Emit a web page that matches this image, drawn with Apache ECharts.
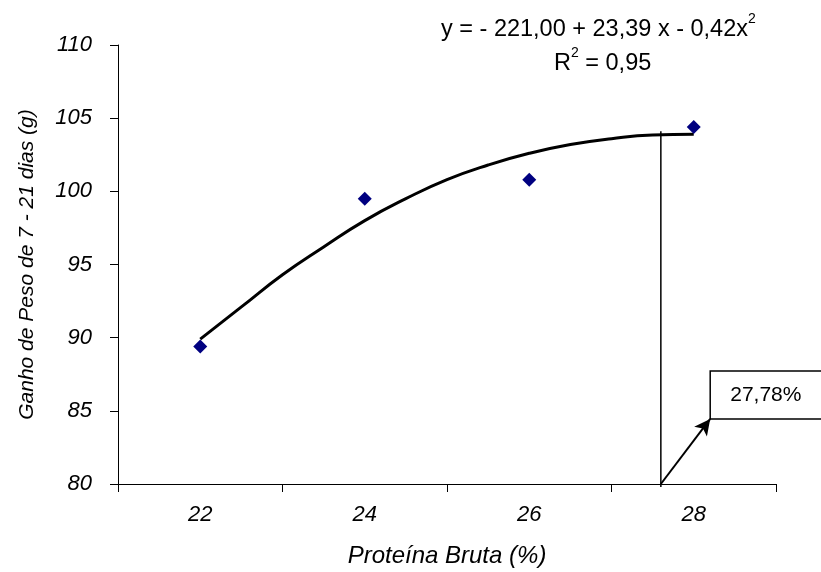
<!DOCTYPE html>
<html>
<head>
<meta charset="utf-8">
<script src="https://cdn.jsdelivr.net/npm/echarts@6/dist/echarts.min.js"></script>
<style>
html,body{margin:0;padding:0;background:#fff;}
#c{width:821px;height:572px;}
</style>
</head>
<body>
<div id="c"></div>
<script>
// ---- data ----
var xCategories = ['22', '24', '26', '28'];
var obsX = [22, 24, 26, 28];
var obsY = [89.4, 99.5, 100.8, 104.4];
var trendX = [22.0, 22.5, 23.0, 23.5, 24.0, 24.5, 25.0, 25.5, 26.0, 26.5, 27.0, 27.5, 28.0];
var trendY = [89.9, 92.1, 94.3, 96.2, 98.0, 99.5, 100.8, 101.8, 102.6, 103.2, 103.6, 103.85, 103.9];
var yTicks = [80, 85, 90, 95, 100, 105, 110];
var optimumLabel = '27,78%';
var optimumLineX = [27.6, 27.6];
var optimumLineY = [104.1, 79.8];
var arrowFrom = [27.6, 80];
var arrowTo = [28.2, 84.45];

var FONT = '"Liberation Sans", Arial, Helvetica, sans-serif';

var chart = echarts.init(document.getElementById('c'), null, {renderer: 'canvas'});

function pairs(xs, ys) { return xs.map(function (x, i) { return [x, ys[i]]; }); }

var eqRich = {
  m: {fontSize: 23.5, fontFamily: FONT, color: '#000', lineHeight: 30, verticalAlign: 'bottom'},
  s: {fontSize: 14, fontFamily: FONT, color: '#000', lineHeight: 30, verticalAlign: 'top'}
};

var option = {
  animation: false,
  backgroundColor: '#fff',
  grid: {left: 118, right: 45, top: 45, bottom: 88, containLabel: false, outerBoundsMode: 'none'},
  xAxis: [
    {
      type: 'category', data: xCategories, boundaryGap: true,
      axisLine: {show: true, lineStyle: {color: '#000', width: 1}},
      axisTick: {show: true, length: 8, lineStyle: {color: '#000', width: 1}},
      axisLabel: {margin: 20, fontSize: 22, fontStyle: 'italic', color: '#000', fontFamily: FONT},
      splitLine: {show: false},
      name: 'Proteína Bruta (%)', nameLocation: 'middle', nameGap: 60,
      nameTextStyle: {fontSize: 24, fontStyle: 'italic', color: '#000', fontFamily: FONT}
    },
    {type: 'value', min: 21, max: 29, show: false}
  ],
  yAxis: {
    type: 'value', min: yTicks[0], max: yTicks[yTicks.length - 1], interval: 5,
    axisLine: {show: true, lineStyle: {color: '#000', width: 1}},
    axisTick: {show: true, length: 8, lineStyle: {color: '#000', width: 1}},
    axisLabel: {margin: 26, fontSize: 22, fontStyle: 'italic', color: '#000', fontFamily: FONT},
    splitLine: {show: false},
    name: 'Ganho de Peso de 7 - 21 dias (g)', nameLocation: 'middle', nameGap: 80, nameRotate: 90,
    nameTextStyle: {fontSize: 21, fontStyle: 'italic', color: '#000', fontFamily: FONT}
  },
  series: [
    {
      type: 'line', xAxisIndex: 1, data: pairs(trendX, trendY), smooth: true,
      showSymbol: false, lineStyle: {color: '#000', width: 3}, z: 3
    },
    {
      type: 'scatter', xAxisIndex: 1, data: pairs(obsX, obsY), symbol: 'diamond',
      symbolSize: 14, itemStyle: {color: '#000080', opacity: 1}, z: 4
    },
    {
      type: 'line', xAxisIndex: 1, data: pairs(optimumLineX, optimumLineY), clip: false,
      showSymbol: false, lineStyle: {color: '#000', width: 1.5}, z: 2,
      markLine: {
        silent: true, symbol: ['none', 'arrow'], symbolSize: [12, 16],
        lineStyle: {color: '#000', width: 2, type: 'solid'},
        label: {show: false},
        data: [[{coord: arrowFrom}, {coord: arrowTo}]]
      }
    }
  ]
};
chart.setOption(option);

var corner = chart.convertToPixel({xAxisIndex: 1, yAxisIndex: 0}, arrowTo);
chart.setOption({
  graphic: [
    {type: 'text', left: 441, top: 12, style: {text: '{m|y = - 221,00 + 23,39 x - 0,42x}{s|2}', rich: eqRich}},
    {type: 'text', left: 554, top: 46, style: {text: '{m|R}{s|2}{m| = 0,95}', rich: eqRich}},
    {type: 'rect', shape: {x: corner[0], y: corner[1] - 48, width: 120, height: 48},
     style: {fill: '#fff', stroke: '#000', lineWidth: 1.5}, z: 10},
    {type: 'text', x: corner[0] + 20, y: corner[1] - 24,
     style: {text: optimumLabel, font: '21px ' + FONT, fill: '#000', verticalAlign: 'middle'}, z: 11}
  ]
});
</script>
</body>
</html>
